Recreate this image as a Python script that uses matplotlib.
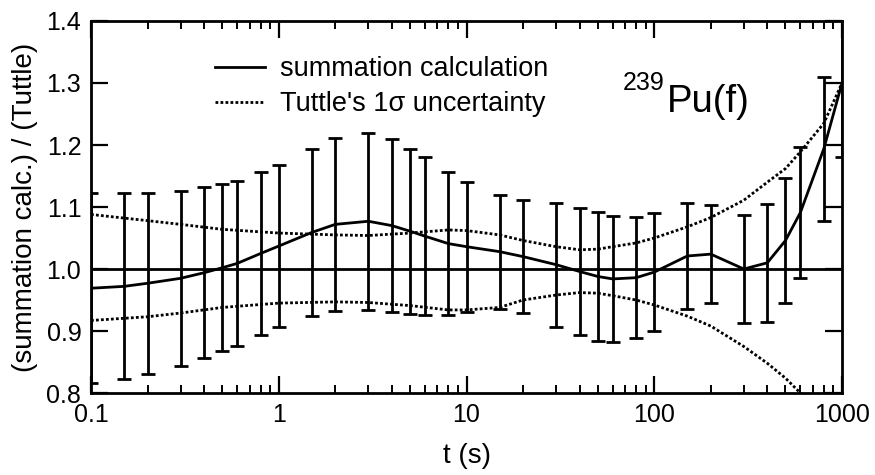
import numpy as np
import matplotlib.pyplot as plt
from matplotlib.ticker import FixedLocator, FixedFormatter, LogLocator, NullLocator

plt.rcParams['font.family'] = ['Liberation Sans', 'DejaVu Sans']

# cooling time points (s) and summation / Tuttle ratio with Tuttle's 1 sigma error
t = [0.1, 0.15, 0.2, 0.3, 0.4, 0.5, 0.6, 0.8, 1, 1.5, 2, 3, 4, 5, 6, 8, 10,
     15, 20, 30, 40, 50, 60, 80, 100, 150, 200, 300, 400, 500, 600, 800, 1000]
ratio = [0.969, 0.972, 0.977, 0.985, 0.994, 1.002, 1.009, 1.025, 1.037, 1.059,
         1.072, 1.077, 1.070, 1.061, 1.053, 1.041, 1.036, 1.028, 1.020, 1.007,
         0.996, 0.988, 0.984, 0.986, 0.995, 1.021, 1.024, 1.000, 1.010, 1.046,
         1.091, 1.194, 1.300]
err = [0.153, 0.150, 0.146, 0.141, 0.138, 0.135, 0.133, 0.131, 0.131, 0.135,
       0.140, 0.143, 0.139, 0.133, 0.127, 0.115, 0.105, 0.092, 0.091, 0.100,
       0.103, 0.104, 0.102, 0.098, 0.095, 0.086, 0.079, 0.087, 0.095, 0.101,
       0.106, 0.116, 0.120]

# Tuttle's 1 sigma band
t_unc = [0.1, 0.2, 0.3, 0.5, 1, 2, 3, 5, 8, 10, 15, 20, 30, 40, 50, 60, 80,
         100, 150, 200, 300, 400, 500, 600, 800, 1000]
unc_hi = [1.088, 1.078, 1.072, 1.064, 1.058, 1.055, 1.054, 1.058, 1.063, 1.062,
          1.055, 1.046, 1.036, 1.031, 1.032, 1.036, 1.042, 1.050, 1.068, 1.083,
          1.111, 1.140, 1.162, 1.189, 1.235, 1.300]
unc_lo = [0.917, 0.923, 0.929, 0.938, 0.945, 0.947, 0.946, 0.941, 0.934, 0.934,
          0.938, 0.950, 0.958, 0.962, 0.961, 0.957, 0.950, 0.942, 0.924, 0.908,
          0.875, 0.848, 0.824, 0.800, 0.760, 0.720]

fig = plt.figure(figsize=(8.75, 4.75), dpi=100)
ax = fig.add_axes([0.104, 0.1726, 0.8583, 0.7832])

lw = 2.0
dots = (0, (1, 0.8))

ax.axhline(1.0, color='black', lw=lw)
ax.errorbar(t, ratio, yerr=err, fmt='none', ecolor='black', elinewidth=lw,
            capsize=5, capthick=lw)
ax.plot(t, ratio, color='black', lw=lw, label='summation calculation')
ax.plot(t_unc, unc_hi, color='black', lw=lw, linestyle=dots,
        label="Tuttle's 1\u03c3 uncertainty")
ax.plot(t_unc, unc_lo, color='black', lw=lw, linestyle=dots)

ax.set_xscale('log')
ax.set_xlim(0.1, 1000)
ax.set_ylim(0.8, 1.4)

ax.xaxis.set_major_locator(FixedLocator([0.1, 1, 10, 100, 1000]))
ax.xaxis.set_major_formatter(FixedFormatter(['0.1', '1', '10', '100', '1000']))
ax.xaxis.set_minor_locator(LogLocator(base=10, subs=np.arange(2, 10)))
ax.set_yticks(np.arange(0.8, 1.41, 0.1))
ax.set_yticklabels(['%.1f' % v for v in np.arange(0.8, 1.41, 0.1)])
ax.yaxis.set_minor_locator(NullLocator())

ax.tick_params(which='both', direction='in', top=True, right=True,
               labelsize=18, pad=7)
ax.tick_params(which='major', length=12, width=1.6)
ax.tick_params(which='minor', length=6, width=1.4)
for s in ax.spines.values():
    s.set_linewidth(2.0)

ax.set_xlabel('t (s)', fontsize=20, labelpad=12)
ax.set_ylabel('(summation calc.) / (Tuttle)', fontsize=20, labelpad=6)

ax.legend(loc='upper left', bbox_to_anchor=(0.165, 0.905), frameon=False,
          fontsize=19.5, handlelength=1.85, handletextpad=0.55,
          labelspacing=0.32, borderaxespad=0, borderpad=0)

ax.text(0.708, 0.80, '239', transform=ax.transAxes, fontsize=18,
        ha='left', va='bottom')
ax.text(0.767, 0.735, 'Pu(f)', transform=ax.transAxes, fontsize=27.5,
        ha='left', va='bottom')

fig.savefig('out.png', dpi=100)
